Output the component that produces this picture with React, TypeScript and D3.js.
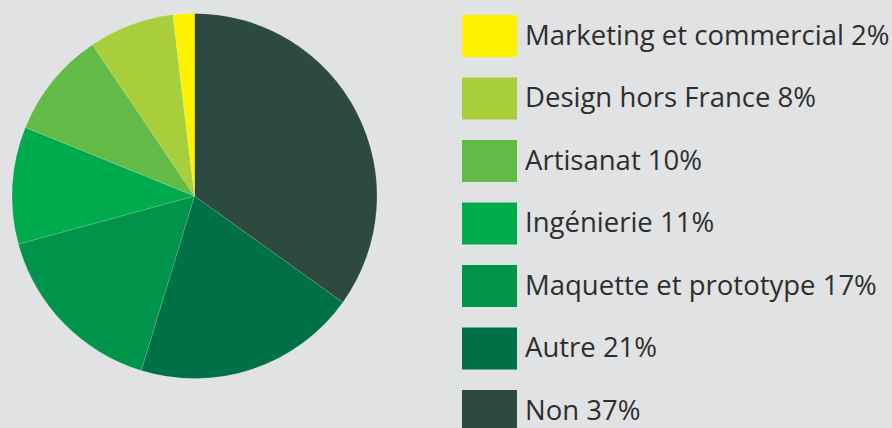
import React from "react";
import * as d3 from "d3";

const categories = [
  "Marketing et commercial",
  "Design hors France",
  "Artisanat",
  "Ingénierie",
  "Maquette et prototype",
  "Autre",
  "Non",
];
const values = [2, 8, 10, 11, 17, 21, 37];
const colors = ["#fff200", "#a8cf3b", "#62bb46", "#00ab4e", "#00944a", "#007046", "#2c4a3e"];

const W = 892;
const H = 428;

export default function App() {
  const cx = 194.5;
  const cy = 196;
  const r = 182.5;
  const items = categories.map((c, i) => ({ c, v: values[i], col: colors[i] }));
  const pieOrder = [...items].reverse();
  const arcs = d3.pie<any>().sort(null).value((d: any) => d.v)(pieOrder);
  const arcGen = d3.arc<any>().innerRadius(0).outerRadius(r);
  const y = d3.scaleLinear().domain([0, 1]).range([15, 77.5]);

  return (
    <svg
      width={W}
      height={H}
      style={{ position: "absolute", left: 0, top: 0, background: "#e1e2e4" }}
    >
      <rect x={0} y={0} width={W} height={H} fill="#e1e2e4" />
      <g transform={`translate(${cx},${cy})`}>
        {arcs.map((a, i) => (
          <path key={i} d={arcGen(a) || ""} fill={a.data.col} stroke="rgba(255,255,255,0.25)" strokeWidth={0.5} />
        ))}
      </g>
      <g>
        {items.map((d, i) => (
          <g key={i} transform={`translate(0,${y(i)})`}>
            <rect x={462} y={0} width={55} height={42} fill={d.col} />
            <text
              x={525}
              y={29.5}
              fontFamily="Open Sans"
              fontSize={27.5}
              fill="#2e2e2e"
            >
              {`${d.c} ${d.v}%`}
            </text>
          </g>
        ))}
      </g>
    </svg>
  );
}
